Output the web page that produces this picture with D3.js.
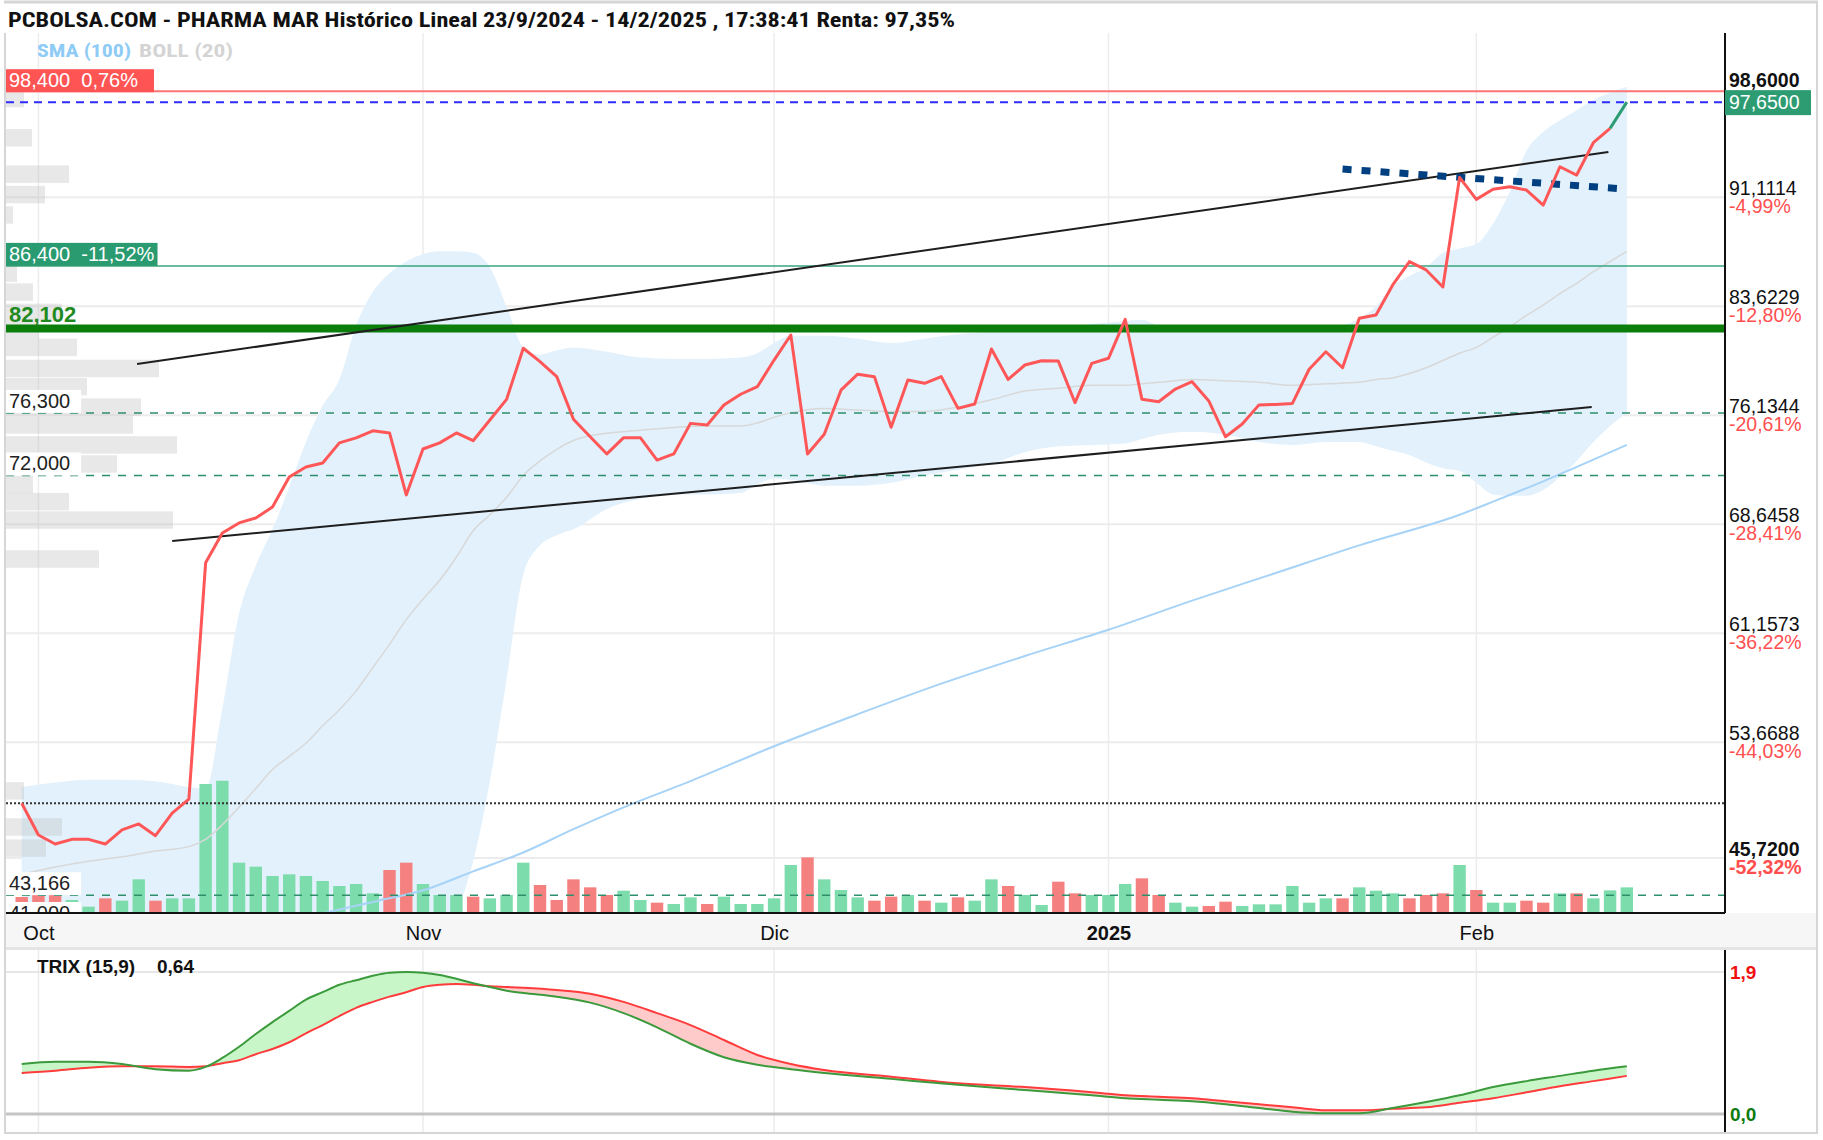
<!DOCTYPE html>
<html>
<head>
<meta charset="utf-8">
<script src="https://cdn.jsdelivr.net/npm/d3@7"></script>
<style>
body { margin: 0; background: #fff; }
text { font-family: "Liberation Sans", Arial, sans-serif; white-space: pre; }
.narrow { font-family: "Liberation Sans Narrow", "Roboto Condensed", "DejaVu Sans Condensed", "Liberation Sans", sans-serif; }
</style>
</head>
<body>
<div id="chart"></div>
<script>
// ---- data ----
// daily closes, trading day 0 = 30/9/2024 ... 96 = 14/2/2025
const closes = [49.48, 47.30, 46.68, 47.00, 47.00, 46.68, 47.65, 48.06, 47.25, 48.80,
    49.77, 66.00, 68.05, 68.74, 69.08, 69.83, 71.90, 72.58, 72.86, 74.24,
    74.58, 75.07, 74.92, 70.66, 73.82, 74.24, 74.92, 74.39, 75.81, 77.23,
    80.74, 79.82, 78.79, 75.86, 74.66, 73.48, 74.60, 74.60, 73.06, 73.48,
    75.58, 75.47, 76.84, 77.58, 78.10, 79.93, 81.65, 73.48, 74.83, 77.86,
    78.96, 78.79, 75.31, 78.56, 78.33, 78.79, 76.61, 76.91, 80.69, 78.60,
    79.59, 79.88, 79.86, 77.00, 79.70, 80.05, 82.73, 77.23, 77.07, 77.94,
    78.44, 77.12, 74.66, 75.54, 76.85, 76.88, 76.95, 79.30, 80.50, 79.40,
    82.80, 83.03, 85.09, 86.69, 86.12, 84.95, 92.48, 90.97, 91.66, 91.84,
    91.61, 90.58, 93.21, 92.64, 94.86, 95.85, 97.65];

// volume (thousand shares) and bar colour g = up, r = down
const volumes = [480, 540, 540, 390, 190, 440, 370, 1010, 370, 440,
    440, 3870, 3970, 1510, 1390, 1110, 1160, 1110, 960, 810,
    870, 590, 1290, 1510, 870, 540, 540, 490, 440, 540,
    1510, 840, 390, 1010, 770, 540, 670, 390, 310, 270,
    470, 270, 490, 270, 270, 440, 1440, 1670, 1010, 690,
    470, 370, 490, 540, 370, 310, 470, 370, 1010, 810,
    540, 240, 940, 590, 540, 540, 870, 1040, 540, 310,
    190, 210, 340, 210, 260, 260, 810, 310, 440, 440,
    770, 670, 590, 440, 540, 590, 1440, 690, 310, 310,
    370, 310, 590, 590, 440, 680, 770];
const volumeSide = ('rrrggrggrg' + 'gggggggggg' + 'ggrrgggrgg' + 'grrrrrggrg' + 'grgggggrgg' +
    'grrgrgrggr' + 'ggrrgggrrg' + 'grrggggggr' + 'gggrrrgrgg' + 'rrgrggg').split('');

// Bollinger (20) sampled by trading day
const bollIdx = [0, 2, 4, 6, 8, 10, 11, 12, 13, 14, 15, 16, 17, 18, 19, 20, 21, 22, 23, 24,
    25, 26, 27, 28, 29, 30, 31, 32, 33, 35, 37, 39, 41, 43, 44, 45, 46, 48, 50, 52,
    54, 56, 58, 60, 62, 64, 66, 67, 68, 70, 72, 74, 76, 78, 80, 81, 82, 83, 84, 85,
    86, 87, 88, 89, 90, 91, 92, 93, 94, 95, 96];
const bollUpper = [50.6, 50.9, 51.1, 51.1, 51.0, 50.6, 50.5, 56.0, 62.5, 65.8, 68.3, 71.2, 74.3, 76.8, 78.6, 82.3, 84.6, 85.9, 86.7, 87.2,
    87.4, 87.4, 87.3, 86.3, 83.6, 80.8, 80.3, 80.6, 80.8, 80.5, 80.1, 80.0, 80.0, 80.1, 80.4, 81.1, 81.6, 81.6, 81.4, 81.1,
    81.4, 81.7, 81.9, 82.0, 82.1, 82.4, 82.6, 82.7, 82.3, 82.1, 82.0, 81.9, 81.9, 82.0, 82.8, 83.6, 85.0, 85.7, 86.3, 87.3,
    87.6, 87.9, 89.3, 91.5, 94.3, 95.6, 96.4, 97.1, 97.8, 98.3, 98.7];
const bollMid = [44.6, 45.1, 45.5, 45.8, 46.2, 46.5, 47.0, 48.0, 49.2, 50.5, 51.8, 52.7, 53.6, 54.8, 55.9, 57.2, 58.8, 60.4, 62.1, 63.5,
    64.8, 66.4, 68.2, 69.3, 70.5, 72.0, 73.0, 73.8, 74.4, 74.9, 75.1, 75.3, 75.4, 75.4, 75.6, 76.0, 76.3, 76.6, 76.5, 76.4,
    76.4, 76.7, 77.2, 77.8, 78.0, 78.2, 78.2, 78.3, 78.4, 78.6, 78.5, 78.4, 78.2, 78.3, 78.4, 78.6, 78.7, 79.0, 79.4, 79.9,
    80.4, 80.8, 81.5, 82.2, 83.0, 83.7, 84.5, 85.2, 86.0, 86.7, 87.4];
const bollLower = [38.6, 38.9, 40.1, 40.8, 41.0, 41.2, 41.3, 38.5, 36.0, 35.0, 35.0, 35.0, 35.0, 35.0, 35.0, 35.0, 35.5, 36.0, 37.0, 38.0,
    40.5, 42.0, 45.5, 51.0, 58.0, 65.2, 67.2, 67.9, 68.3, 69.7, 70.4, 70.7, 70.7, 70.8, 71.4, 71.8, 71.7, 71.3, 71.3, 71.5,
    72.0, 72.4, 72.8, 73.6, 74.0, 74.1, 74.2, 74.5, 74.8, 75.0, 74.8, 74.3, 74.1, 74.3, 74.3, 74.0, 73.7, 73.4, 72.9, 72.5,
    72.3, 71.5, 70.7, 70.6, 70.6, 71.0, 71.9, 73.0, 74.3, 75.4, 76.3];

// SMA (100)
const smaIdx = [15, 18, 21, 24, 27, 30, 33, 36, 40, 45, 50, 55, 60, 65, 70, 75, 80, 86, 88, 91, 96];
const smaVal = [40.9, 41.9, 42.7, 43.5, 44.8, 46.1, 47.7, 49.2, 51.0, 53.4, 55.6, 57.7, 59.6, 61.4, 63.4, 65.3, 67.2, 69.3, 70.2, 71.6, 74.1];

// volume at price (left profile)
const profilePrice = [97.9, 95.2, 92.7, 91.3, 89.9, 85.9, 84.6, 83.2, 82.0, 80.8, 79.35, 78.1, 76.7, 75.47,
    74.1, 72.79, 71.38, 70.2, 68.94, 66.26, 50.33, 47.85, 46.4];
const profileVolume = [900, 1300, 3150, 1950, 350, 550, 1350, 2800, 1650, 3550, 7650, 4050, 6750, 6350,
    8550, 5550, 1350, 3150, 8350, 4650, 900, 2800, 2000];

// drawn trend lines [day, price]
const trendUpper = [[6.9, 79.66], [94.9, 94.23]];
const trendLower = [[9.0, 67.50], [93.9, 76.70]];
const trendShort = [[79.0, 93.05], [95.9, 91.68]];

// horizontal levels
const levelValues = [98.4, 86.4, 82.102, 76.3, 72.0, 43.166, 41.0];
const levelLabels = ['98,400  0,76%', '86,400  -11,52%', '82,102', '76,300', '72,000', '43,166', '41,000'];
const lastPrice = 97.65;
const basePrice = 49.48;

// price axis
const yTicks = [98.6, 91.1114, 83.6229, 76.1344, 68.6458, 61.1573, 53.6688, 45.72];
const yTickText = ['98,6000', '91,1114', '83,6229', '76,1344', '68,6458', '61,1573', '53,6688', '45,7200'];
const yTickPct = ['', '-4,99%', '-12,80%', '-20,61%', '-28,41%', '-36,22%', '-44,03%', '-52,32%'];

// month ticks
const monthIdx = [1, 24, 45, 65, 87];
const monthLabels = ['Oct', 'Nov', 'Dic', '2025', 'Feb'];

// TRIX (15,9)
const trixIdx = [0, 2, 4, 6, 8, 10, 11, 12, 13, 14, 15, 16, 17, 18, 19, 20, 21, 22, 23, 24,
    25, 26, 27, 28, 29, 30, 32, 34, 36, 38, 40, 42, 44, 46, 48, 52, 56, 60, 64, 66,
    68, 70, 72, 74, 76, 78, 80, 82, 84, 86, 88, 90, 92, 94, 96];
const trixVal = [0.67, 0.70, 0.70, 0.67, 0.60, 0.58, 0.63, 0.75, 0.90, 1.07, 1.23, 1.38, 1.53, 1.63, 1.73, 1.79, 1.85, 1.89, 1.90, 1.89,
    1.86, 1.81, 1.75, 1.70, 1.65, 1.62, 1.57, 1.49, 1.35, 1.16, 0.94, 0.76, 0.66, 0.60, 0.55, 0.47, 0.39, 0.32, 0.25, 0.21,
    0.19, 0.17, 0.13, 0.08, 0.03, 0.01, 0.01, 0.08, 0.16, 0.25, 0.36, 0.44, 0.51, 0.58, 0.64];
const trixSignal = [0.55, 0.58, 0.62, 0.64, 0.64, 0.63, 0.64, 0.68, 0.72, 0.80, 0.87, 0.96, 1.08, 1.19, 1.31, 1.42, 1.50, 1.57, 1.63, 1.70,
    1.73, 1.74, 1.73, 1.71, 1.70, 1.69, 1.66, 1.61, 1.50, 1.35, 1.19, 0.99, 0.79, 0.67, 0.59, 0.50, 0.41, 0.36, 0.29, 0.25,
    0.23, 0.21, 0.17, 0.13, 0.09, 0.05, 0.05, 0.07, 0.09, 0.15, 0.21, 0.29, 0.37, 0.44, 0.51];

// ---- layout ----
const W = 1823, H = 1140;
const plot = {left: 6, right: 1725, top: 33, bottom: 913};
const trixBox = {top: 950, bottom: 1133};

const xScale = d3.scaleLinear().domain([0, 96]).range([21.7, 1626.8]);
const yScale = d3.scaleLinear().domain([45.72, 91.1114]).range([858, 197.3]);
const volScale = d3.scaleLinear().domain([0, 4000]).range([plot.bottom, plot.bottom - 133.3]);
const profScale = d3.scaleLinear().domain([0, 10000]).range([plot.left, plot.left + 200]);
const trixScale = d3.scaleLinear().domain([0, 1.9]).range([1114, 972]);

const svg = d3.select('#chart')
    .append('svg')
    .attr('width', W)
    .attr('height', H);

svg.append('rect').attr('width', W).attr('height', H).attr('fill', '#fff');

const defs = svg.append('defs');
defs.append('clipPath').attr('id', 'clip-main')
    .append('rect')
    .attr('x', plot.left).attr('y', plot.top)
    .attr('width', plot.right - plot.left).attr('height', plot.bottom - plot.top);

// title
svg.append('text')
    .attr('class', 'narrow')
    .attr('x', 8).attr('y', 27)
    .attr('font-size', 20).attr('font-weight', 'bold')
    .attr('textLength', 947).attr('lengthAdjust', 'spacingAndGlyphs')
    .attr('fill', '#111')
    .text('PCBOLSA.COM - PHARMA MAR Histórico Lineal 23/9/2024 - 14/2/2025 , 17:38:41 Renta: 97,35%');

// gridlines
const grid = svg.append('g');
grid.selectAll('line.h')
    .data(yTicks.slice(1))
    .enter().append('line')
    .attr('x1', plot.left).attr('x2', plot.right)
    .attr('y1', d => yScale(d)).attr('y2', d => yScale(d))
    .attr('stroke', '#ececec').attr('stroke-width', 2);
grid.selectAll('line.v')
    .data(monthIdx)
    .enter().append('line')
    .attr('x1', d => xScale(d)).attr('x2', d => xScale(d))
    .attr('y1', plot.top).attr('y2', plot.bottom)
    .attr('stroke', '#ececec').attr('stroke-width', 1.5);

const main = svg.append('g').attr('clip-path', 'url(#clip-main)');

// bollinger band
const boll = bollIdx.map((d, i) => ({i: d, up: bollUpper[i], mid: bollMid[i], low: bollLower[i]}));
main.append('path')
    .datum(boll)
    .attr('d', d3.area()
        .x(d => xScale(d.i))
        .y0(d => yScale(d.low))
        .y1(d => yScale(d.up))
        .curve(d3.curveMonotoneX))
    .attr('fill', '#e2f1fc');

// volume profile
main.selectAll('rect.prof')
    .data(profilePrice)
    .enter().append('rect')
    .attr('x', plot.left)
    .attr('y', d => yScale(d + 0.6))
    .attr('width', (d, i) => profScale(profileVolume[i]) - plot.left)
    .attr('height', d => yScale(d - 0.6) - yScale(d + 0.6))
    .attr('fill', '#bdbdbd').attr('fill-opacity', 0.35);

// volume bars
main.selectAll('rect.vol')
    .data(volumes)
    .enter().append('rect')
    .attr('x', (d, i) => xScale(i) - 6.2)
    .attr('y', d => volScale(d))
    .attr('width', 12.4)
    .attr('height', d => plot.bottom - volScale(d))
    .attr('fill', (d, i) => volumeSide[i] === 'g' ? '#7ddcac' : '#f58080');

// bollinger middle + sma100
main.append('path')
    .datum(boll)
    .attr('d', d3.line().x(d => xScale(d.i)).y(d => yScale(d.mid)).curve(d3.curveMonotoneX))
    .attr('fill', 'none').attr('stroke', '#d8d8d8').attr('stroke-width', 1.5);
main.append('path')
    .datum(smaIdx.map((d, i) => [d, smaVal[i]]))
    .attr('d', d3.line().x(d => xScale(d[0])).y(d => yScale(d[1])).curve(d3.curveMonotoneX))
    .attr('fill', 'none').attr('stroke', '#a6d3f7').attr('stroke-width', 2);

// horizontal levels
const levelStyle = [
    {stroke: '#ff7474', width: 2, dash: null},
    {stroke: '#3aa57e', width: 1.5, dash: null},
    {stroke: '#0b7d0b', width: 8, dash: null},
    {stroke: '#2e8f6c', width: 1.5, dash: '8,8'},
    {stroke: '#2e8f6c', width: 1.5, dash: '8,8'},
    {stroke: '#2e8f6c', width: 1.5, dash: '8,8'},
    {stroke: 'none', width: 0, dash: null}
];
main.selectAll('line.level')
    .data(levelValues)
    .enter().append('line')
    .attr('x1', plot.left).attr('x2', plot.right)
    .attr('y1', d => yScale(d)).attr('y2', d => yScale(d))
    .attr('stroke', (d, i) => levelStyle[i].stroke)
    .attr('stroke-width', (d, i) => levelStyle[i].width)
    .attr('stroke-dasharray', (d, i) => levelStyle[i].dash);

main.append('line')
    .attr('x1', plot.left).attr('x2', plot.right)
    .attr('y1', yScale(lastPrice)).attr('y2', yScale(lastPrice))
    .attr('stroke', '#2d2dff').attr('stroke-width', 2).attr('stroke-dasharray', '8,6');
main.append('line')
    .attr('x1', plot.left).attr('x2', plot.right)
    .attr('y1', yScale(basePrice)).attr('y2', yScale(basePrice))
    .attr('stroke', '#333').attr('stroke-width', 2).attr('stroke-dasharray', '2,2');

// trend lines
const seg = d3.line().x(d => xScale(d[0])).y(d => yScale(d[1]));
[trendUpper, trendLower].forEach(t => {
    main.append('path').attr('d', seg(t))
        .attr('stroke', '#1e1e1e').attr('stroke-width', 2).attr('fill', 'none');
});
main.append('path').attr('d', seg(trendShort))
    .attr('stroke', '#003f80').attr('stroke-width', 7).attr('stroke-dasharray', '9,10').attr('fill', 'none');

// price line, last session in green
const pts = closes.map((v, i) => [i, v]);
main.append('path')
    .attr('d', seg(pts.slice(0, pts.length - 1)))
    .attr('fill', 'none').attr('stroke', '#ff5757').attr('stroke-width', 3).attr('stroke-linejoin', 'round');
main.append('path')
    .attr('d', seg(pts.slice(pts.length - 2)))
    .attr('fill', 'none').attr('stroke', '#2e9c72').attr('stroke-width', 3);

// level labels
function boxLabel(g, text, y, bg, color, weight, size, pad, minWidth) {
    let t = g.append('text')
        .attr('x', plot.left + 3).attr('y', y)
        .attr('font-size', size).attr('font-weight', weight)
        .attr('fill', color)
        .text(text);
    if (bg) {
        let b = t.node().getBBox();
        g.insert('rect', 'text')
            .attr('x', plot.left).attr('y', b.y)
            .attr('width', Math.max(b.width + pad, minWidth || 0)).attr('height', b.height + 1)
            .attr('fill', bg);
    }
}
const labels = main.append('g');
levelValues.forEach((v, i) => {
    let g = labels.append('g');
    let y = yScale(v);
    if (i === 0) boxLabel(g, levelLabels[i], y - 4, '#ff5454', '#fff', 'normal', 20, 8, 148);
    else if (i === 1) boxLabel(g, levelLabels[i], y - 5, '#2a9a70', '#fff', 'normal', 20, 6, 148);
    else if (i === 2) boxLabel(g, levelLabels[i], y - 6, null, '#1f8a1f', 'bold', 22, 0);
    else if (i === 6) boxLabel(g, levelLabels[i], 920, '#fff', '#222', 'normal', 20, 14);
    else boxLabel(g, levelLabels[i], y - 5, '#fff', '#222', 'normal', 20, 14);
});

// indicator legend
const leg = svg.append('text').attr('class', 'narrow').attr('y', 57).attr('font-size', 19).attr('font-weight', 'bold');
leg.append('tspan').attr('x', 37).attr('fill', '#8ecbf5').text('SMA (100)')
    .attr('textLength', 94).attr('lengthAdjust', 'spacingAndGlyphs');
leg.append('tspan').attr('x', 139).attr('fill', '#d4d4d4').text('BOLL (20)')
    .attr('textLength', 94).attr('lengthAdjust', 'spacingAndGlyphs');

// x axis band
svg.append('rect').attr('x', plot.left).attr('y', plot.bottom).attr('width', 1811).attr('height', 34).attr('fill', '#f6f6f6');
svg.append('rect').attr('x', plot.left).attr('y', 947).attr('width', 1811).attr('height', 3).attr('fill', '#e4e4e4');

const xAxis = svg.append('g')
    .attr('transform', `translate(0,${plot.bottom})`)
    .call(d3.axisBottom(xScale).tickValues(monthIdx).tickSize(0).tickFormat((d, i) => monthLabels[i]));
xAxis.select('.domain').remove();
xAxis.selectAll('text')
    .attr('y', 27).attr('dy', null)
    .attr('font-size', 20).attr('fill', '#111')
    .attr('font-family', '"Liberation Sans", Arial, sans-serif')
    .attr('font-weight', (d, i) => monthLabels[i] === '2025' ? 'bold' : 'normal');

// price axis
svg.append('line')
    .attr('x1', plot.left).attr('x2', plot.right)
    .attr('y1', plot.bottom).attr('y2', plot.bottom)
    .attr('stroke', '#111').attr('stroke-width', 2);
svg.append('line')
    .attr('x1', plot.right).attr('x2', plot.right)
    .attr('y1', plot.top).attr('y2', plot.bottom)
    .attr('stroke', '#111').attr('stroke-width', 2);

const yAxis = svg.append('g')
    .attr('transform', `translate(${plot.right},0)`)
    .call(d3.axisRight(yScale).tickValues(yTicks).tickSize(0).tickFormat((d, i) => yTickText[i]));
yAxis.select('.domain').remove();
yAxis.selectAll('text')
    .attr('x', 4).attr('dy', null).attr('y', (d, i) => i === 0 ? -2 : -3)
    .attr('font-size', 19.5).attr('fill', '#111')
    .attr('font-family', '"Liberation Sans", Arial, sans-serif')
    .attr('font-weight', (d, i) => (i === 0 || i === yTicks.length - 1) ? 'bold' : 'normal');
svg.append('g').selectAll('text')
    .data(yTicks)
    .enter().append('text')
    .attr('x', plot.right + 4)
    .attr('y', d => yScale(d) + 16)
    .attr('font-size', 19.5)
    .attr('font-weight', (d, i) => i === yTicks.length - 1 ? 'bold' : 'normal')
    .attr('fill', '#ff4f4f')
    .text((d, i) => yTickPct[i]);

// last price tag
const tagY = yScale(lastPrice);
svg.append('rect')
    .attr('x', plot.right).attr('y', tagY - 12)
    .attr('width', 86).attr('height', 25)
    .attr('fill', '#2e9c72');
svg.append('text')
    .attr('x', plot.right + 4).attr('y', tagY + 7)
    .attr('font-size', 19.5).attr('fill', '#fff')
    .text('97,6500');

// ---- TRIX panel ----
const trix = trixIdx.map((d, i) => ({i: d, t: trixVal[i], s: trixSignal[i]}));
const tg = svg.append('g');
tg.selectAll('line.v')
    .data(monthIdx)
    .enter().append('line')
    .attr('x1', d => xScale(d)).attr('x2', d => xScale(d))
    .attr('y1', trixBox.top).attr('y2', trixBox.bottom)
    .attr('stroke', '#ececec').attr('stroke-width', 1.5);
tg.append('line')
    .attr('x1', plot.left).attr('x2', plot.right)
    .attr('y1', trixScale(1.9)).attr('y2', trixScale(1.9))
    .attr('stroke', '#e6e6e6').attr('stroke-width', 2);
tg.append('line')
    .attr('x1', plot.left).attr('x2', plot.right)
    .attr('y1', trixScale(0)).attr('y2', trixScale(0))
    .attr('stroke', '#c4c4c4').attr('stroke-width', 3);

defs.append('clipPath').attr('id', 'clip-above')
    .append('path').datum(trix)
    .attr('d', d3.area().x(d => xScale(d.i)).y0(trixBox.top).y1(d => trixScale(d.s)).curve(d3.curveMonotoneX));
defs.append('clipPath').attr('id', 'clip-below')
    .append('path').datum(trix)
    .attr('d', d3.area().x(d => xScale(d.i)).y0(d => trixScale(d.s)).y1(trixBox.bottom).curve(d3.curveMonotoneX));

const between = d3.area()
    .x(d => xScale(d.i))
    .y0(d => trixScale(d.s))
    .y1(d => trixScale(d.t))
    .curve(d3.curveMonotoneX);
tg.append('path').datum(trix).attr('d', between).attr('fill', '#c9f6c9').attr('clip-path', 'url(#clip-above)');
tg.append('path').datum(trix).attr('d', between).attr('fill', '#ffcaca').attr('clip-path', 'url(#clip-below)');

tg.append('path').datum(trix)
    .attr('d', d3.line().x(d => xScale(d.i)).y(d => trixScale(d.s)).curve(d3.curveMonotoneX))
    .attr('fill', 'none').attr('stroke', '#ff3b3b').attr('stroke-width', 2);
tg.append('path').datum(trix)
    .attr('d', d3.line().x(d => xScale(d.i)).y(d => trixScale(d.t)).curve(d3.curveMonotoneX))
    .attr('fill', 'none').attr('stroke', '#3b9a3b').attr('stroke-width', 2);

tg.append('line')
    .attr('x1', plot.right).attr('x2', plot.right)
    .attr('y1', trixBox.top).attr('y2', trixBox.bottom)
    .attr('stroke', '#111').attr('stroke-width', 2);

const tl = tg.append('text').attr('y', 973).attr('font-size', 19).attr('font-weight', 'bold').attr('fill', '#111');
tl.append('tspan').attr('x', 37).text('TRIX (15,9)');
tl.append('tspan').attr('x', 157).text('0,64');

tg.append('text')
    .attr('x', plot.right + 5).attr('y', trixScale(1.9) + 7)
    .attr('font-size', 19).attr('font-weight', 'bold').attr('fill', '#f01010')
    .text('1,9');
tg.append('text')
    .attr('x', plot.right + 5).attr('y', trixScale(0) + 7)
    .attr('font-size', 19).attr('font-weight', 'bold').attr('fill', '#0d7a0d')
    .text('0,0');

// outer frame
svg.append('line').attr('x1', 5).attr('x2', 5).attr('y1', plot.top).attr('y2', trixBox.bottom)
    .attr('stroke', '#d6d6d6').attr('stroke-width', 2);
svg.append('line').attr('x1', 1817).attr('x2', 1817).attr('y1', 2).attr('y2', trixBox.bottom)
    .attr('stroke', '#d6d6d6').attr('stroke-width', 2);
svg.append('line').attr('x1', 4).attr('x2', 1818).attr('y1', 2).attr('y2', 2)
    .attr('stroke', '#d6d6d6').attr('stroke-width', 3);
svg.append('line').attr('x1', 4).attr('x2', 1818).attr('y1', trixBox.bottom).attr('y2', trixBox.bottom)
    .attr('stroke', '#d6d6d6').attr('stroke-width', 2);
</script>
</body>
</html>
